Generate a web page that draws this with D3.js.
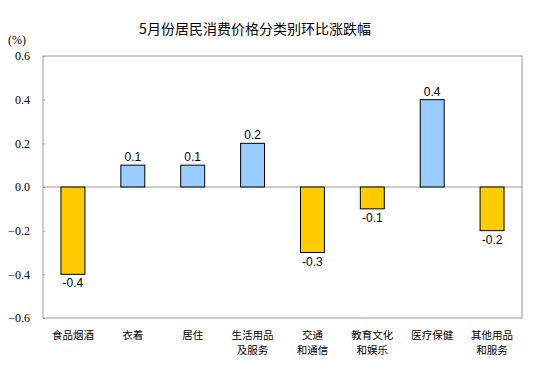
<!DOCTYPE html>
<html>
<head>
<meta charset="utf-8">
<script src="https://cdn.jsdelivr.net/npm/d3@7"></script>
<style>
  body { margin: 0; background: #fff; }
  .serif { font-family: "Liberation Serif", "Times New Roman", serif; }
</style>
</head>
<body>
<div id="chart"></div>
<script>
// data
const categories = [
    ['食品烟酒'],
    ['衣着'],
    ['居住'],
    ['生活用品', '及服务'],
    ['交通', '和通信'],
    ['教育文化', '和娱乐'],
    ['医疗保健'],
    ['其他用品', '和服务']
];
const values = [-0.4, 0.1, 0.1, 0.2, -0.3, -0.1, 0.4, -0.2];
const yTicks = [0.6, 0.4, 0.2, 0.0, -0.2, -0.4, -0.6];

const width = 554, height = 384;
const margin = { top: 56, right: 32, bottom: 66, left: 43 };

const svg = d3.select('#chart').append('svg')
    .attr('width', width)
    .attr('height', height);

const x = d3.scaleBand()
    .domain(d3.range(categories.length))
    .range([margin.left, width - margin.right])
    .paddingInner(0.6)
    .paddingOuter(0.3);

const y = d3.scaleLinear()
    .domain([-0.6, 0.6])
    .range([height - margin.bottom, margin.top]);

// title
svg.append('text')
    .attr('x', 255).attr('y', 34)
    .attr('text-anchor', 'middle')
    .style('font-family', '"Noto Sans CJK SC", sans-serif')
    .style('font-size', '14px')
    .text('5月份居民消费价格分类别环比涨跌幅');

// unit
svg.append('text')
    .attr('class', 'serif')
    .attr('x', 8).attr('y', 44)
    .style('font-size', '12px')
    .text('(%)');

// y axis
const yAxis = svg.append('g')
    .attr('transform', `translate(${margin.left},0)`)
    .call(d3.axisLeft(y).tickValues(yTicks).tickFormat(d3.format('.1f')).tickSize(-2).tickPadding(13));
yAxis.attr('font-family', null).attr('font-size', null);
yAxis.select('.domain').remove();
yAxis.selectAll('line').attr('stroke', '#999');
yAxis.selectAll('text')
    .attr('class', 'serif')
    .style('font-size', '12px')
    .attr('fill', '#000');

// plot frame
svg.append('rect')
    .attr('x', margin.left).attr('y', margin.top)
    .attr('width', width - margin.left - margin.right)
    .attr('height', height - margin.top - margin.bottom)
    .attr('fill', 'none')
    .attr('stroke', '#999');

// zero line
svg.append('line')
    .attr('x1', margin.left).attr('x2', width - margin.right)
    .attr('y1', y(0)).attr('y2', y(0))
    .attr('stroke', '#999');

// bars
svg.selectAll('rect.bar')
    .data(values)
    .enter().append('rect')
    .attr('class', 'bar')
    .attr('x', (d, i) => x(i))
    .attr('width', x.bandwidth())
    .attr('y', d => y(Math.max(0, d)))
    .attr('height', d => Math.abs(y(d) - y(0)))
    .attr('fill', d => d >= 0 ? '#99CCFF' : '#FFCC00')
    .attr('stroke', '#000')
    .attr('stroke-width', 1);

// value labels
svg.selectAll('text.val')
    .data(values)
    .enter().append('text')
    .attr('class', 'val')
    .attr('x', (d, i) => x(i) + x.bandwidth() / 2)
    .attr('y', d => d >= 0 ? y(d) - 4 : y(d) + 13)
    .attr('text-anchor', 'middle')
    .style('font-family', '"Liberation Sans", Arial, sans-serif')
    .style('font-size', '12px')
    .text(d => d.toFixed(1));

// category labels, one text per line
const catLines = categories.flatMap((lines, i) => lines.map((t, j) => ({ t, i, j })));
svg.selectAll('text.cat')
    .data(catLines)
    .enter().append('text')
    .attr('class', 'cat')
    .attr('text-anchor', 'middle')
    .attr('x', d => x(d.i) + x.bandwidth() / 2)
    .attr('y', d => 339 + d.j * 15)
    .style('font-family', '"Noto Sans CJK SC", sans-serif')
    .style('font-size', '10.5px')
    .text(d => d.t);
</script>
</body>
</html>
